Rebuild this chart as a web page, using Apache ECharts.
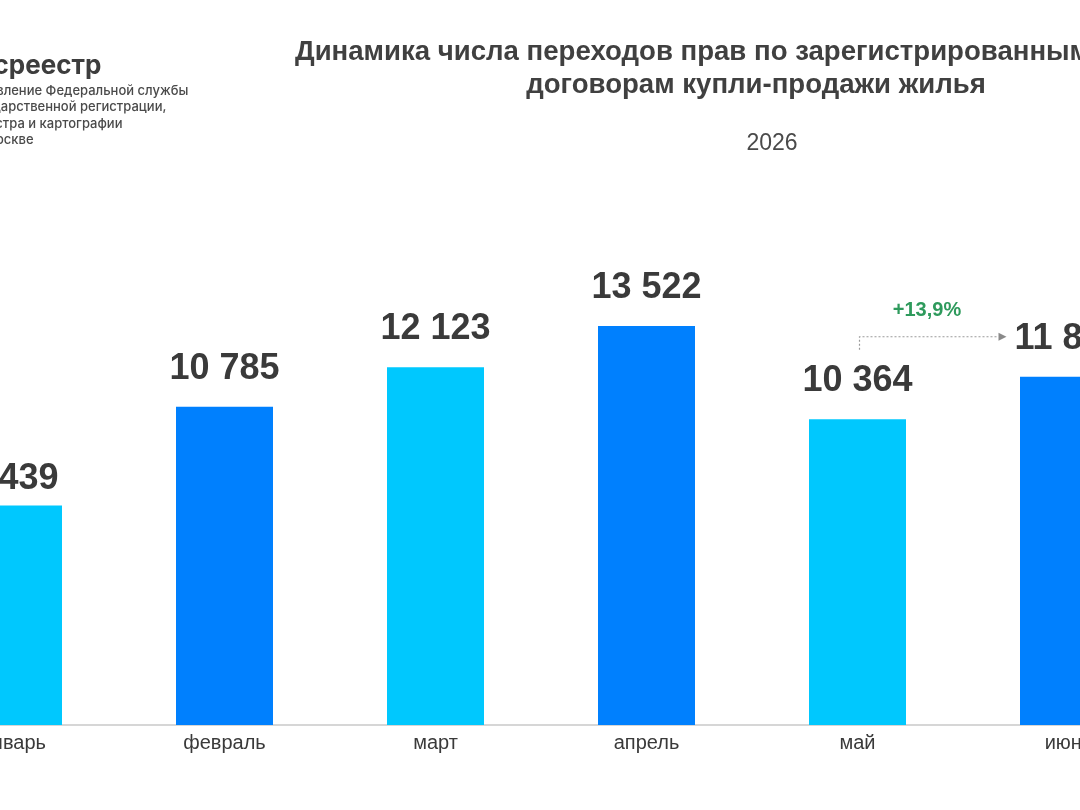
<!DOCTYPE html>
<html lang="ru">
<head>
    <meta charset="UTF-8">
    <title>Динамика числа переходов прав</title>
    <script src="https://cdn.jsdelivr.net/npm/echarts@6/dist/echarts.min.js"></script>
    <style>
        html, body { margin: 0; padding: 0; width: 1080px; height: 810px; overflow: hidden; background: #fff; }
        /* график шире окна - края обрезаны, как на исходной картинке */
        #chart { position: absolute; left: -200px; top: 0; width: 1480px; height: 810px; }
    </style>
</head>
<body>
<div id="chart"></div>
<script>
    // данные
    var months = ['январь', 'февраль', 'март', 'апрель', 'май', 'июнь'];
    var deals = [7439, 10785, 12123, 13522, 10364, 11805];
    var barColors = ['#00c8fe', '#0080fe', '#00c8fe', '#0080fe', '#00c8fe', '#0080fe'];
    var titleLines = ['Динамика числа переходов прав по зарегистрированным', 'договорам купли-продажи жилья'];
    var yearLabel = '2026';
    var logoLines = ['Управление Федеральной службы', 'государственной регистрации,', 'кадастра и картографии', 'по Москве'];

    var chart = echarts.init(document.getElementById('chart'));

    function fmt(v) {
        return String(v).replace(/\B(?=(\d{3})+(?!\d))/g, ' ');
    }

    // логотип и заголовок
    var graphics = [
        { type: 'text', left: 161, top: 53, style: { text: 'Росреестр', font: 'bold 26px Inter', fill: '#3d3d3d' } },
        { type: 'text', left: 165, top: 83, style: { text: logoLines.join('\n'), font: '500 13px Inter', lineHeight: 16.3, fill: '#4a4a4a' } },
        { type: 'text', left: 495, top: 38, scaleX: 0.985, style: { text: titleLines[0], font: 'bold 28px "Liberation Sans"', fill: '#404040' } },
        { type: 'text', x: 956, y: 85, scaleX: 0.985, style: { text: titleLines[1], font: 'bold 28px "Liberation Sans"', fill: '#404040', align: 'center', verticalAlign: 'middle' } },
        { type: 'text', x: 972, y: 144, style: { text: yearLabel, font: '23px "Liberation Sans"', fill: '#4a4a4a', align: 'center', verticalAlign: 'middle' } }
    ];

    chart.setOption({
        backgroundColor: '#ffffff',
        animation: false,
        grid: { left: 108, width: 1266, top: 253, height: 472 },
        xAxis: {
            type: 'category',
            data: months,
            axisLine: { lineStyle: { color: '#d6d6d6', width: 2 } },
            axisTick: { show: false },
            axisLabel: { color: '#3a3a3a', fontSize: 20, fontFamily: 'Liberation Sans', margin: 8 }
        },
        yAxis: { type: 'value', min: 0, max: 16000, show: false, splitLine: { show: false } },
        series: [{
            type: 'bar',
            barWidth: 97,
            data: deals.map(function (v, i) {
                var item = { value: v, itemStyle: { color: barColors[i] } };
                if (i === 0) item.label = { distance: 8 };
                return item;
            }),
            label: {
                show: true,
                position: 'top',
                distance: 20,
                formatter: function (p) { return fmt(p.value); },
                color: '#3a3a3a',
                fontSize: 36,
                fontWeight: 'bold',
                fontFamily: 'Liberation Sans'
            }
        }],
        graphic: graphics
    });

    // стрелка прироста май -> июнь
    var may = chart.convertToPixel({ xAxisIndex: 0, yAxisIndex: 0 }, [4, deals[4]]);
    var jun = chart.convertToPixel({ xAxisIndex: 0, yAxisIndex: 0 }, [5, deals[5]]);
    var lineY = jun[1] - 40;
    var x0 = may[0] + 2, x1 = jun[0] - 70;
    var growth = ((deals[5] / deals[4] - 1) * 100).toFixed(1).replace('.', ',');
    chart.setOption({
        graphic: graphics.concat([
            { type: 'polyline', shape: { points: [[x0, lineY + 13], [x0, lineY], [x1, lineY]] },
              style: { stroke: '#9a9a9a', lineWidth: 1.2, lineDash: [2, 2], fill: null } },
            { type: 'polygon', shape: { points: [[x1, lineY - 4], [x1 + 8, lineY], [x1, lineY + 4]] },
              style: { fill: '#8a8a8a' } },
            { type: 'text', x: (x0 + x1) / 2 - 2, y: lineY - 26, style: { text: '+' + growth + '%', font: 'bold 20px "Liberation Sans"', fill: '#2e9a5c', align: 'center', verticalAlign: 'middle' } }
        ])
    });

    window.addEventListener('resize', function () { chart.resize(); });
</script>
</body>
</html>
